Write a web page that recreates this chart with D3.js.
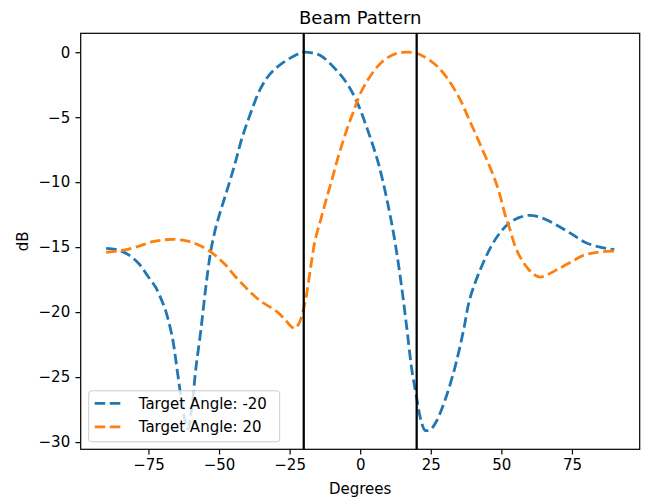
<!DOCTYPE html>
<html>
<head>
<meta charset="utf-8">
<script src="https://cdn.jsdelivr.net/npm/d3@7"></script>
<style>
  body { margin: 0; background: #fff; }
  text { font-family: "DejaVu Sans", sans-serif; fill: #000; }
</style>
</head>
<body>
<script>
// values
var angleBlue = [-90, -86, -82, -78.3, -75, -72.4, -70.5, -68.9, -66.5, -64.8, -63.3, -62, -61, -59.5, -58.3, -56.5,
  -54.7, -53, -51.5, -50, -48, -46, -44, -42, -39, -35.3, -31.8, -27.1, -22.4, -20, -17, -14.1, -9.4, -4.7, -1.2,
  2.5, 6.5, 10, 12.4, 14.7, 16.5, 18.2, 20, 21.5, 23, 25, 27, 30, 33.5, 36.5, 38.8, 42.4, 46.5, 49.5, 52.5, 56, 60,
  65, 70, 75, 79.4, 84, 88.7, 90];
var dbBlue = [-15.1, -15.2, -15.6, -16.3, -17.3, -18.1, -19.0, -19.9, -22.0, -24.5, -26.8, -28.4, -29.0, -27.1, -24.5, -21.5,
  -18.1, -15.4, -13.8, -12.6, -11.2, -9.8, -8.3, -6.7, -4.8, -2.8, -1.65, -0.77, -0.18, 0, -0.06, -0.25, -1.15, -2.4, -3.8,
  -5.9, -8.6, -11.9, -14.7, -18.1, -21.2, -24.3, -26.6, -28.3, -29.1, -29.0, -28.4, -26.8, -24.3, -21.5, -19.0, -16.8, -14.9, -13.9, -13.2, -12.75, -12.55,
  -12.8, -13.35, -14.0, -14.6, -14.95, -15.15, -15.2];

var angleOrange = [-90, -86, -82, -78, -74, -70, -66, -62, -60, -57, -54, -51, -48, -44.5, -41, -38, -35, -32, -29.3,
  -26.5, -24.5, -23.2, -22, -21, -19.3, -17.5, -16, -14, -12, -10, -8, -6, -4, -2, -1.2, 0, 2.5, 5, 7.6, 10, 12.4, 15,
  17, 20, 21.8, 24.5, 27.6, 30.5, 33.5, 36, 38.2, 40.5, 42.9, 45.5, 47.7, 49.5, 51.3, 53, 55, 57, 59.6, 61.5, 63.7,
  66.5, 70, 75, 79.4, 84, 88.7, 90];
var dbOrange = [-15.4, -15.3, -15.15, -14.9, -14.6, -14.45, -14.4, -14.5, -14.6, -14.85, -15.2, -15.7, -16.3, -17.2, -18.0, -18.65, -19.2, -19.6, -20.0,
  -20.6, -21.1, -21.25, -21.0, -20.5, -19.0, -16.5, -14.5, -12.9, -11.3, -9.8, -8.2, -6.8, -5.5, -4.35, -3.85, -3.2, -2.2, -1.4, -0.77, -0.38, -0.13, -0.02,
  0, -0.08, -0.25, -0.6, -1.15, -1.9, -2.9, -3.9, -5.0, -6.1, -7.3, -8.6, -9.8, -11.0, -12.5, -13.6, -15.0, -15.9, -16.7, -17.1, -17.3,
  -17.1, -16.7, -16.1, -15.6, -15.4, -15.3, -15.3];

var seriesNames = ["Target Angle: -20", "Target Angle: 20"];
var seriesColors = ["#1f77b4", "#ff7f0e"];
var targetAngles = [-20, 20];
var xTicks = [-75, -50, -25, 0, 25, 50, 75];
var yTicks = [-30, -25, -20, -15, -10, -5, 0];

var series = [
  {name: seriesNames[0], color: seriesColors[0], pts: angleBlue.map(function(a, i) { return [a, dbBlue[i]]; })},
  {name: seriesNames[1], color: seriesColors[1], pts: angleOrange.map(function(a, i) { return [a, dbOrange[i]]; })}
];

var W = 651, H = 499;
var margin = {top: 33.3, right: 11.3, bottom: 49.7, left: 80.7};
var width = W - margin.left - margin.right,
    height = H - margin.top - margin.bottom;

// matplotlib style 5% padding
var allX = angleBlue.concat(angleOrange), allY = dbBlue.concat(dbOrange);
var xe = d3.extent(allX), ye = d3.extent(allY);
var xp = (xe[1] - xe[0]) * 0.05, yp = (ye[1] - ye[0]) * 0.05;
var x = d3.scaleLinear().domain([xe[0] - xp, xe[1] + xp]).range([0, width]);
var y = d3.scaleLinear().domain([ye[0] - yp, ye[1] + yp]).range([height, 0]);

var svg = d3.select("body").append("svg")
    .attr("width", W)
    .attr("height", H);
var g = svg.append("g")
    .attr("transform", "translate(" + margin.left + "," + margin.top + ")");

svg.append("defs").append("clipPath").attr("id", "clip")
    .append("rect").attr("width", width).attr("height", height);

// axes
var xAxis = g.append("g")
    .attr("transform", "translate(0," + height + ")")
    .call(d3.axisBottom(x).tickValues(xTicks).tickSize(5.25).tickPadding(5.25).tickFormat(d3.format("d")));
var yAxis = g.append("g")
    .call(d3.axisLeft(y).tickValues(yTicks).tickSize(5.25).tickPadding(5.25).tickFormat(d3.format("d")));
[xAxis, yAxis].forEach(function(a) {
  a.select(".domain").remove();
  a.selectAll(".tick line").attr("stroke", "#000").attr("stroke-width", 1.2);
  a.selectAll(".tick text").attr("font-size", "15px").attr("font-family", "DejaVu Sans").attr("fill", "#000");
});

var plot = g.append("g").attr("clip-path", "url(#clip)");
var line = d3.line()
    .x(function(d) { return x(d[0]); })
    .y(function(d) { return y(d[1]); })
    .curve(d3.curveCatmullRom.alpha(0.5));

plot.selectAll("path.series")
    .data(series)
    .enter()
    .append("path")
    .attr("class", "series")
    .attr("d", function(d) { return line(d.pts); })
    .attr("fill", "none")
    .attr("stroke", function(d) { return d.color; })
    .attr("stroke-width", 2.8)
    .attr("stroke-dasharray", "10.5,4.6");

plot.selectAll("line.target")
    .data(targetAngles)
    .enter()
    .append("line")
    .attr("class", "target")
    .attr("x1", function(d) { return x(d); })
    .attr("x2", function(d) { return x(d); })
    .attr("y1", 0)
    .attr("y2", height)
    .attr("stroke", "#000")
    .attr("stroke-width", 2.25);

// frame
g.append("rect")
    .attr("width", width)
    .attr("height", height)
    .attr("fill", "none")
    .attr("stroke", "#000")
    .attr("stroke-width", 1.2);

// legend
var leg = g.append("g").attr("transform", "translate(8," + (height - 7.5 - 51) + ")");
leg.append("rect")
    .attr("width", 191)
    .attr("height", 51)
    .attr("rx", 3)
    .attr("fill", "#fff")
    .attr("fill-opacity", 0.8)
    .attr("stroke", "#cccccc")
    .attr("stroke-width", 1);
var items = leg.selectAll("g.item")
    .data(series)
    .enter()
    .append("g")
    .attr("transform", function(d, i) { return "translate(0," + (12.5 + i * 23.5) + ")"; });
items.append("line")
    .attr("x1", 6).attr("x2", 36)
    .attr("stroke", function(d) { return d.color; })
    .attr("stroke-width", 2.8)
    .attr("stroke-dasharray", "10.5,4.6");
items.append("text")
    .attr("x", 50)
    .attr("dy", "0.35em")
    .attr("font-size", "15px")
    .text(function(d) { return d.name; });

// labels
svg.append("text")
    .attr("x", margin.left + width / 2)
    .attr("y", 24)
    .attr("text-anchor", "middle")
    .attr("font-size", "18px")
    .text("Beam Pattern");
svg.append("text")
    .attr("x", margin.left + width / 2)
    .attr("y", 494)
    .attr("text-anchor", "middle")
    .attr("font-size", "15px")
    .text("Degrees");
svg.append("text")
    .attr("transform", "translate(28," + (margin.top + height / 2) + ") rotate(-90)")
    .attr("text-anchor", "middle")
    .attr("font-size", "15px")
    .text("dB");
</script>
</body>
</html>
